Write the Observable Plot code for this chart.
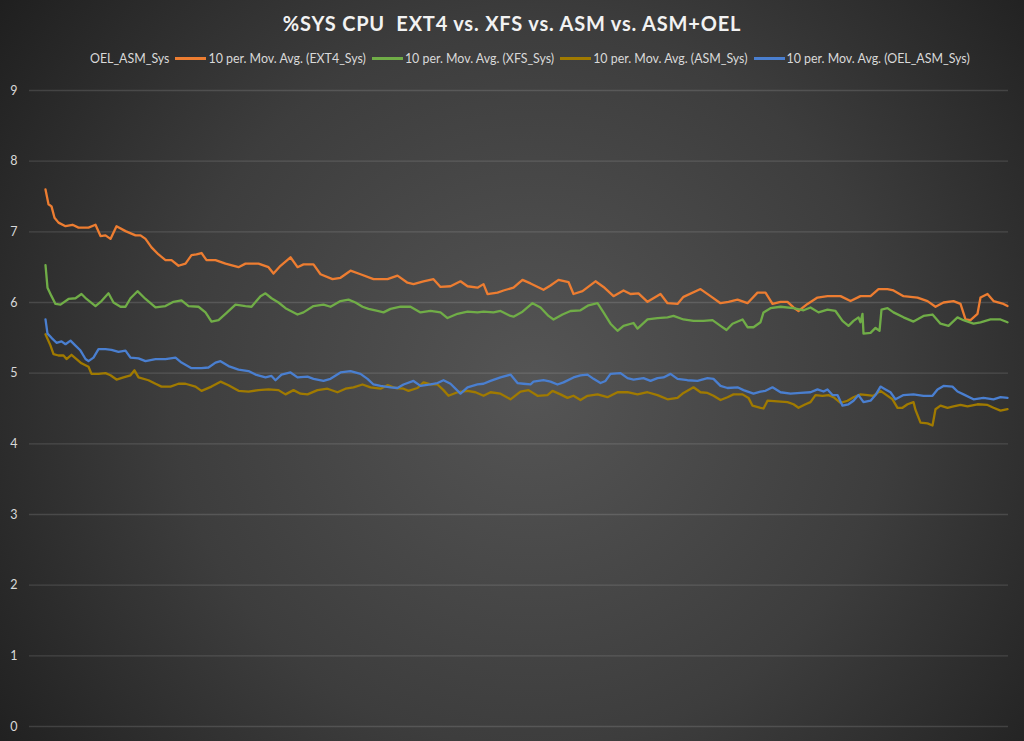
<!DOCTYPE html>
<html>
<head>
<meta charset="utf-8">
<script src="https://cdn.jsdelivr.net/npm/d3@7"></script>
<script src="https://cdn.jsdelivr.net/npm/@observablehq/plot@0.6"></script>
<style>
  html, body { margin: 0; padding: 0; width: 1024px; height: 741px; overflow: hidden; }
  body {
    background: radial-gradient(circle at 52% 52%, #555555 0%, #3d3d3d 55%, #1f1f1f 100%);
    font-family: Lato, "Open Sans", sans-serif;
    position: relative;
  }
  #header { position: relative; height: 78px; width: 1024px; }
  #title {
    position: absolute; left: 0; width: 1024px; top: 11px; text-align: center;
    color: #f2f2f2; font-weight: bold; font-size: 20px; letter-spacing: 0.8px; white-space: pre;
  }
  #legend {
    position: absolute; left: 90px; top: 51px; display: flex; align-items: center; gap: 6px;
    color: #d9d9d9; font-size: 12.4px; white-space: pre;
  }
  .item { display: flex; align-items: center; }
  .sw { width: 31px; height: 2.5px; margin-right: 2px; }
</style>
</head>
<body>
<div id="header">
  <div id="title"></div>
  <div id="legend"></div>
</div>
<div id="chart"></div>
<script>
// ---- data (sample index, value) ----
const titleText = "%SYS CPU  EXT4 vs. XFS vs. ASM vs. ASM+OEL";
const legendNames = ["OEL_ASM_Sys", "10 per. Mov. Avg. (EXT4_Sys)", "10 per. Mov. Avg. (XFS_Sys)", "10 per. Mov. Avg. (ASM_Sys)", "10 per. Mov. Avg. (OEL_ASM_Sys)"];
const legendColors = [null, "#ED7D31", "#70AD47", "#A07A00", "#4A7FD0"];
const yTicks = [0, 1, 2, 3, 4, 5, 6, 7, 8, 9];

const ext4 = [[16,7.60],[19,7.39],[22,7.36],[25,7.20],[29,7.13],[36,7.08],[43,7.10],[49,7.06],[59,7.06],[66,7.10],[71,6.94],[76,6.95],[81,6.90],[87,7.08],[96,7.01],[106,6.95],[111,6.95],[116,6.90],[122,6.78],[129,6.68],[136,6.60],[142,6.60],[149,6.52],[156,6.55],[162,6.67],[167,6.68],[172,6.70],[177,6.60],[186,6.60],[196,6.55],[209,6.50],[216,6.55],[229,6.55],[239,6.50],[244,6.41],[251,6.52],[261,6.64],[268,6.50],[274,6.54],[284,6.54],[291,6.40],[303,6.33],[311,6.35],[321,6.45],[331,6.40],[344,6.33],[358,6.33],[368,6.38],[378,6.28],[384,6.26],[394,6.30],[404,6.33],[411,6.22],[421,6.23],[431,6.30],[438,6.23],[448,6.21],[454,6.26],[458,6.12],[468,6.14],[474,6.17],[484,6.21],[493,6.32],[501,6.27],[514,6.18],[521,6.24],[529,6.32],[539,6.29],[544,6.12],[553,6.16],[566,6.30],[574,6.22],[584,6.09],[594,6.17],[601,6.12],[609,6.13],[618,6.01],[631,6.12],[638,5.99],[648,5.98],[654,6.08],[671,6.19],[681,6.09],[691,5.99],[699,6.01],[708,6.04],[718,5.99],[728,6.14],[736,6.14],[743,5.98],[751,6.01],[758,6.01],[764,5.93],[769,5.88],[778,5.98],[788,6.07],[798,6.09],[811,6.09],[821,6.02],[831,6.09],[841,6.09],[849,6.19],[858,6.19],[864,6.17],[874,6.09],[888,6.07],[898,6.02],[906,5.94],[914,6.00],[924,6.02],[931,5.98],[936,5.76],[941,5.75],[948,5.84],[951,6.07],[958,6.12],[964,6.02],[974,5.98],[978,5.95]];

const xfs = [[16,6.53],[18,6.21],[22,6.09],[26,5.98],[31,5.97],[39,6.05],[46,6.06],[52,6.12],[57,6.05],[66,5.95],[72,6.02],[79,6.13],[84,6.00],[91,5.94],[96,5.94],[101,6.06],[108,6.16],[116,6.05],[126,5.93],[136,5.95],[144,6.01],[152,6.03],[159,5.95],[169,5.94],[176,5.86],[182,5.73],[189,5.75],[196,5.84],[206,5.97],[216,5.95],[222,5.94],[231,6.09],[236,6.13],[242,6.06],[249,6.00],[256,5.92],[268,5.83],[274,5.86],[284,5.95],[294,5.97],[301,5.94],[311,6.02],[319,6.04],[326,6.00],[333,5.94],[339,5.91],[348,5.88],[354,5.86],[361,5.91],[371,5.94],[381,5.94],[391,5.86],[401,5.88],[411,5.86],[418,5.78],[428,5.84],[438,5.87],[448,5.86],[454,5.87],[464,5.86],[471,5.88],[481,5.81],[484,5.80],[493,5.87],[503,5.99],[511,5.93],[519,5.81],[524,5.76],[533,5.83],[541,5.88],[551,5.89],[559,5.96],[568,5.99],[574,5.86],[581,5.70],[588,5.60],[594,5.67],[604,5.71],[608,5.63],[618,5.76],[628,5.78],[638,5.79],[644,5.81],[654,5.76],[664,5.74],[674,5.74],[683,5.75],[691,5.67],[697,5.61],[703,5.70],[713,5.76],[718,5.65],[724,5.65],[731,5.72],[734,5.86],[741,5.92],[751,5.94],[764,5.92],[774,5.89],[781,5.93],[789,5.86],[798,5.90],[806,5.88],[813,5.74],[819,5.67],[824,5.74],[829,5.79],[831,5.72],[833,5.84],[834,5.56],[841,5.57],[846,5.64],[850,5.60],[852,5.90],[858,5.92],[864,5.86],[874,5.79],[884,5.73],[894,5.81],[903,5.83],[911,5.70],[919,5.67],[928,5.79],[934,5.75],[944,5.70],[951,5.72],[961,5.76],[971,5.76],[978,5.72]];

const asm = [[16,5.55],[21,5.39],[24,5.27],[29,5.25],[34,5.25],[37,5.20],[42,5.26],[47,5.20],[52,5.14],[59,5.09],[62,4.99],[69,4.99],[76,5.00],[81,4.97],[87,4.91],[94,4.94],[101,4.97],[105,5.04],[109,4.94],[119,4.90],[126,4.85],[132,4.81],[141,4.81],[149,4.85],[156,4.85],[166,4.81],[172,4.75],[182,4.81],[191,4.88],[199,4.83],[209,4.75],[219,4.74],[229,4.76],[239,4.77],[249,4.76],[256,4.70],[264,4.76],[271,4.71],[278,4.70],[288,4.76],[298,4.78],[308,4.73],[316,4.78],[324,4.80],[333,4.84],[341,4.80],[351,4.78],[358,4.83],[366,4.79],[374,4.78],[379,4.75],[388,4.79],[394,4.87],[401,4.84],[408,4.84],[414,4.76],[419,4.68],[428,4.73],[438,4.75],[446,4.73],[454,4.68],[461,4.73],[471,4.71],[481,4.63],[491,4.74],[499,4.76],[508,4.68],[518,4.69],[523,4.75],[531,4.70],[538,4.65],[544,4.68],[551,4.62],[558,4.68],[568,4.70],[578,4.66],[588,4.73],[598,4.73],[608,4.70],[618,4.73],[628,4.69],[638,4.63],[648,4.65],[654,4.72],[664,4.80],[671,4.73],[678,4.72],[684,4.68],[691,4.62],[698,4.66],[704,4.70],[713,4.70],[719,4.65],[723,4.54],[731,4.51],[734,4.50],[738,4.61],[748,4.60],[758,4.59],[764,4.56],[769,4.51],[776,4.56],[781,4.59],[786,4.69],[793,4.68],[799,4.69],[804,4.66],[811,4.58],[818,4.61],[824,4.66],[831,4.70],[838,4.69],[844,4.68],[851,4.75],[856,4.70],[863,4.63],[868,4.51],[873,4.51],[878,4.56],[884,4.59],[886,4.48],[891,4.30],[898,4.29],[903,4.26],[906,4.49],[911,4.54],[918,4.51],[924,4.53],[931,4.55],[938,4.53],[948,4.56],[958,4.55],[964,4.51],[971,4.47],[978,4.49]];

const oelAsm = [[16,5.76],[18,5.56],[22,5.50],[27,5.43],[32,5.45],[36,5.41],[41,5.46],[46,5.39],[51,5.32],[56,5.20],[59,5.17],[64,5.22],[69,5.34],[76,5.34],[82,5.33],[89,5.30],[96,5.32],[101,5.22],[109,5.21],[116,5.17],[126,5.20],[136,5.20],[146,5.22],[152,5.15],[162,5.07],[172,5.07],[179,5.08],[186,5.15],[191,5.17],[199,5.10],[209,5.05],[219,5.03],[226,4.98],[236,4.94],[242,4.96],[246,4.90],[252,4.98],[261,5.01],[268,4.94],[278,4.95],[284,4.92],[294,4.89],[301,4.92],[311,5.01],[321,5.03],[331,4.99],[338,4.92],[344,4.84],[351,4.82],[361,4.80],[368,4.79],[374,4.84],[384,4.89],[391,4.82],[401,4.84],[408,4.86],[414,4.90],[421,4.85],[431,4.71],[438,4.80],[448,4.84],[454,4.85],[461,4.89],[471,4.94],[481,4.98],[488,4.86],[494,4.85],[501,4.84],[504,4.88],[514,4.90],[521,4.88],[528,4.84],[534,4.87],[544,4.94],[551,4.97],[558,4.98],[564,4.92],[571,4.86],[576,4.89],[581,4.99],[591,5.00],[598,4.93],[604,4.91],[614,4.93],[621,4.89],[628,4.93],[634,4.94],[641,4.99],[648,4.92],[658,4.90],[668,4.89],[678,4.93],[684,4.92],[691,4.82],[698,4.79],[708,4.80],[714,4.76],[724,4.71],[731,4.74],[736,4.75],[743,4.80],[751,4.73],[761,4.71],[771,4.72],[781,4.73],[788,4.77],[794,4.74],[798,4.77],[803,4.69],[808,4.69],[813,4.54],[819,4.56],[824,4.61],[829,4.69],[834,4.59],[841,4.61],[846,4.69],[851,4.81],[856,4.77],[861,4.73],[866,4.63],[874,4.69],[884,4.70],[894,4.68],[903,4.68],[908,4.77],[914,4.82],[923,4.81],[928,4.74],[934,4.70],[944,4.63],[954,4.65],[964,4.63],[971,4.66],[978,4.65]];

// ---- header ----
document.getElementById("title").textContent = titleText;
const leg = document.getElementById("legend");
legendNames.forEach((name, i) => {
  const it = document.createElement("div");
  it.className = "item";
  if (legendColors[i]) {
    const sw = document.createElement("div");
    sw.className = "sw";
    sw.style.background = legendColors[i];
    it.appendChild(sw);
  }
  const t = document.createElement("span");
  t.textContent = name;
  it.appendChild(t);
  leg.appendChild(it);
});

// ---- chart ----
const series = [ext4, xfs, asm, oelAsm];
const colors = legendColors.slice(1);
const chart = Plot.plot({
  width: 1024,
  height: 663,
  marginLeft: 29,
  marginRight: 16,
  marginTop: 12,
  marginBottom: 15,
  style: { background: "transparent", color: "#d9d9d9", fontFamily: "Lato, 'Open Sans', sans-serif", fontSize: "12.5px" },
  x: { domain: [0, 979], axis: null },
  y: { domain: [0, 9], axis: null },
  marks: [
    Plot.gridY(yTicks, { stroke: "#ffffff", strokeOpacity: 0.13, strokeWidth: 1.3 }),
    ...series.map((s, i) => Plot.line(s, { x: d => d[0], y: d => d[1], stroke: colors[i], strokeWidth: 2.3, strokeLinejoin: "round" })),
    Plot.axisY(yTicks, { tickSize: 0, tickPadding: 12, label: null, fill: "#d9d9d9", tickFormat: d3.format("d") })
  ]
});
document.getElementById("chart").appendChild(chart);
</script>
</body>
</html>
